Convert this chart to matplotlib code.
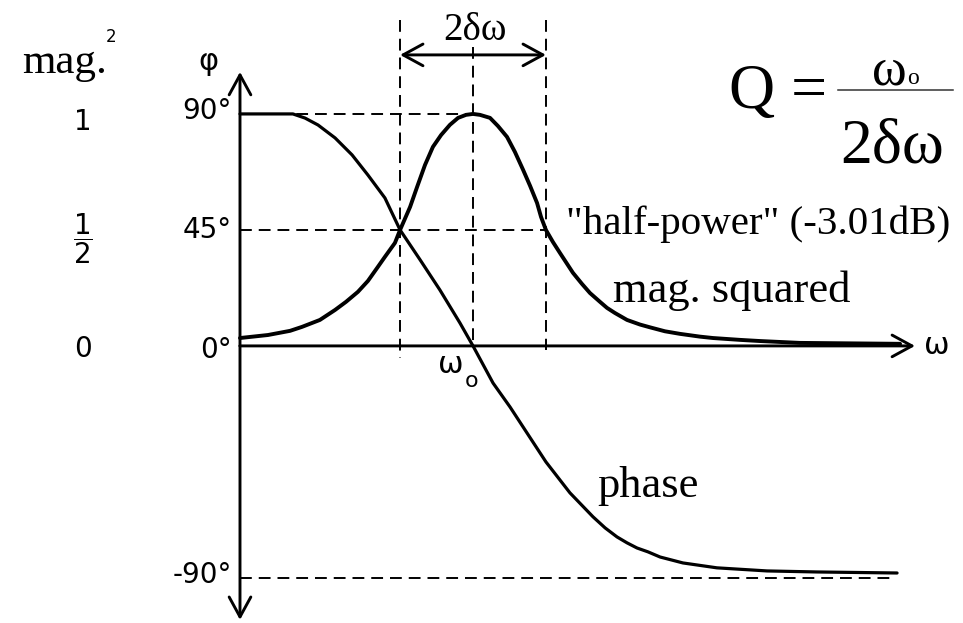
import matplotlib
matplotlib.use('Agg')
import matplotlib.pyplot as plt
import numpy as np

plt.rcParams['lines.scale_dashes'] = False
plt.rcParams['mathtext.fontset'] = 'dejavusans'

# frequency in units of the resonance frequency
omega_0 = 1.0
half_power = [0.687, 1.313]
omega_end = 2.897

# phase response (degrees)
omega_phase = [0.000, 0.129, 0.227, 0.279, 0.335, 0.408, 0.481, 0.549, 0.622,
               0.687, 0.773, 0.858, 0.944, 1.000, 1.086, 1.159, 1.232, 1.313,
               1.416, 1.515, 1.567, 1.618, 1.661, 1.704, 1.751, 1.803, 1.850,
               1.901, 2.047, 2.262, 2.476, 2.820]
phase_deg = [90.0, 90.0, 90.0, 88.4, 85.7, 80.7, 74.1, 66.3, 57.4,
             45.0, 33.4, 21.7, 8.9, 0.0, -14.4, -23.7, -33.8, -45.0,
             -57.0, -66.3, -70.6, -74.1, -76.4, -78.4, -79.9, -81.9, -83.0,
             -84.2, -86.1, -87.3, -87.7, -88.1]

# magnitude squared (1 at resonance)
omega_mag = [0.000, 0.120, 0.215, 0.266, 0.343, 0.408, 0.455, 0.506, 0.549,
             0.592, 0.622, 0.665, 0.687, 0.730, 0.760, 0.794, 0.828, 0.863,
             0.901, 0.936, 0.970, 1.000, 1.030, 1.073, 1.107, 1.146, 1.180,
             1.215, 1.245, 1.275, 1.292, 1.313, 1.343, 1.373, 1.429, 1.468,
             1.502, 1.545, 1.575, 1.609, 1.661, 1.717, 1.760, 1.824, 1.888,
             1.974, 2.030, 2.146, 2.232, 2.403, 2.833]
mag_sq = [0.034, 0.047, 0.065, 0.082, 0.112, 0.155, 0.190, 0.233, 0.280,
          0.341, 0.384, 0.444, 0.500, 0.599, 0.685, 0.780, 0.858, 0.909,
          0.953, 0.983, 0.996, 1.000, 0.996, 0.983, 0.948, 0.901, 0.836,
          0.759, 0.690, 0.616, 0.556, 0.500, 0.448, 0.401, 0.315, 0.267,
          0.228, 0.190, 0.164, 0.142, 0.112, 0.092, 0.080, 0.063, 0.052,
          0.040, 0.034, 0.026, 0.021, 0.013, 0.009]

phase_ticks = [90, 45, 0, -90]
phase_labels = ['90°', '45°', '0°', '-90°']
mag_ticks = [1.0, 0.5, 0.0]
mag_labels = ['1', r'$\dfrac{1}{2}$', '0']

serif = 'Liberation Serif'
sans = 'DejaVu Sans'

fig = plt.figure(figsize=(9.63, 6.23), dpi=100)
ax = fig.add_axes([0, 0, 1, 1])
ax.set_xlim(-1.030, 3.103)
ax.set_ylim(-107.5, 134.2)
ax.axis('off')

dash = dict(color='black', lw=1.4, dashes=(8.5, 5))

# reference lines
ax.plot([0, omega_0], [90, 90], **dash)
ax.plot([0, half_power[1]], [45, 45], **dash)
ax.plot([0, omega_end - 0.08], [-90, -90], **dash)
ax.plot([half_power[0]] * 2, [126.5, -4.7], **dash)
ax.plot([omega_0] * 2, [116.0, 0], **dash)
ax.plot([half_power[1]] * 2, [126.5, -1.5], **dash)

# axes with arrow heads
arrow = dict(arrowstyle='->,head_length=0.55,head_width=0.3', lw=2.1,
             color='black', mutation_scale=26, shrinkA=0, shrinkB=0)
ax.annotate('', xy=(omega_end, 0), xytext=(0, 0), arrowprops=arrow)
ax.annotate('', xy=(0, 106.3), xytext=(0, 0), arrowprops=arrow)
ax.annotate('', xy=(0, -106.3), xytext=(0, 0), arrowprops=arrow)

# bandwidth arrow
bw = dict(arrow, arrowstyle='<->,head_length=0.55,head_width=0.3')
ax.annotate('', xy=(half_power[1], 112.9), xytext=(half_power[0], 112.9),
            arrowprops=bw)

# curves
ax.plot(omega_phase, phase_deg, color='black', lw=2.3,
        solid_capstyle='round', solid_joinstyle='round')
ax.plot(omega_mag, np.array(mag_sq) * 90, color='black', lw=2.8,
        solid_capstyle='round', solid_joinstyle='round')

# tick labels
phase_shift = {90: 1.2, 45: 0, 0: -1.5, -90: 1.2}
for v, lab in zip(phase_ticks, phase_labels):
    ax.text(-0.034, v + phase_shift[v], lab, ha='right', va='center',
            fontsize=20, family=sans)
mag_shift = {1.0: -3.1, 0.5: -3.5, 0.0: -1.2}
for v, lab in zip(mag_ticks, mag_labels):
    ax.text(-0.674, v * 90 + mag_shift[v], lab, ha='center', va='center',
            fontsize=20, family=sans)

ax.text(-0.137, 110.2, 'φ', ha='center', va='center', fontsize=22, family=sans)
ax.text(-0.936, 105.9, 'mag.', ha='left', va='baseline', fontsize=31, family=serif)
ax.text(-0.555, 120.0, '2', ha='center', va='center', fontsize=12, family=sans)
ax.text(2.991, 0, 'ω', ha='center', va='center', fontsize=22, family=sans)
ax.text(0.905, -7.4, 'ω', ha='center', va='center', fontsize=22, family=sans)
ax.text(0.992, -13.8, 'o', ha='center', va='center', fontsize=16, family=sans)

ax.text(1.009, 118.7, '2δω', ha='center', va='baseline', fontsize=28, family=serif)
ax.text(3.047, 43.4, '"half-power" (-3.01dB)', ha='right', va='baseline',
        fontsize=29.5, family=serif)
ax.text(1.601, 17.1, 'mag. squared', ha='left', va='baseline', fontsize=32, family=serif)
ax.text(1.532, -58.6, 'phase', ha='left', va='baseline', fontsize=32, family=serif)

# Q = omega_0 / (2 delta omega)
ax.text(2.519, 92.3, 'Q =', ha='right', va='baseline', fontsize=46, family=serif)
ax.plot([2.567, 3.060], [99.3, 99.3], color='#333333', lw=1.1)
ax.text(2.785, 101.6, 'ω', ha='center', va='baseline', fontsize=38, family=serif)
ax.text(2.888, 101.6, 'o', ha='center', va='baseline', fontsize=17, family=serif)
ax.text(2.799, 71.0, '2δω', ha='center', va='baseline', fontsize=46, family=serif)

fig.savefig('out.png', dpi=100, facecolor='white')
